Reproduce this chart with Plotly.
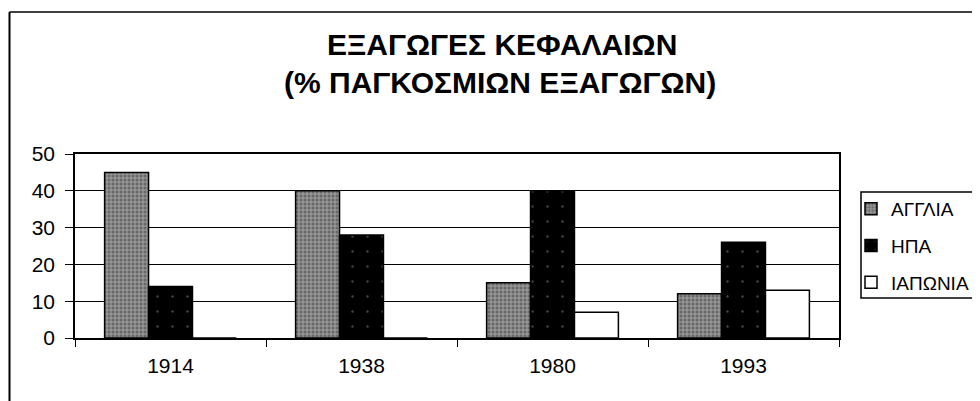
import plotly.graph_objects as go

years = ["1914", "1938", "1980", "1993"]
series_names = ["ΑΓΓΛΙΑ", "ΗΠΑ", "ΙΑΠΩΝΙΑ"]
anglia = [45, 40, 15, 12]
ipa = [14, 28, 40, 26]
iaponia = [0, 0, 7, 13]
y_ticks = [0, 10, 20, 30, 40, 50]

title_line1 = "ΕΞΑΓΩΓΕΣ ΚΕΦΑΛΑΙΩΝ"
title_line2 = "(% ΠΑΓΚΟΣΜΙΩΝ ΕΞΑΓΩΓΩΝ)"

FONT = "Liberation Sans, Arial, sans-serif"

# page offset of the figure (default body margin)
OFF = 8
W, H = 980, 401
# desired plot area in page pixels
PL, PR, PT, PB = 75, 839, 154, 338
L = PL - OFF
T = PT - OFF
R = W - (PR - OFF)
B = H - (PB - OFF)
PW = PR - PL
PH = PB - PT


def px(x):
    return (x - PL) / PW


def py(y):
    return (PB - y) / PH


fig = go.Figure()
styles = [
    dict(color="#949494", pattern=dict(shape=".", fgcolor="#3c3c3c", size=4, solidity=0.45)),
    dict(color="#000000", pattern=dict(shape=".", fgcolor="#8a8a8a", size=15, solidity=0.02)),
    dict(color="#ffffff"),
]
for name, vals, st in zip(series_names, [anglia, ipa, iaponia], styles):
    fig.add_trace(go.Bar(
        x=years, y=vals, name=name, legendgroup=name,
        marker=dict(line=dict(color="#000000", width=1.5), **st),
    ))

fig.update_layout(
    width=W, height=H,
    margin=dict(l=L, r=R, t=T, b=B, autoexpand=False),
    paper_bgcolor="white", plot_bgcolor="white",
    barmode="group", bargap=0.31, bargroupgap=0,
    font=dict(family=FONT, color="black", size=21),
    showlegend=True,
    legend=dict(
        x=px(851), y=py(190), xanchor="left", yanchor="top",
        font=dict(size=19, family=FONT), borderwidth=0,
        bgcolor="rgba(0,0,0,0)", tracegroupgap=9, traceorder="grouped",
    ),
    xaxis=dict(
        type="category", showline=True, linecolor="black", linewidth=1.5,
        mirror=True, ticks="outside", tickson="boundaries", ticklen=7,
        tickcolor="black", showgrid=False, tickfont=dict(size=21),
        ticklabelstandoff=8,
    ),
    yaxis=dict(
        range=[0, 50], tickvals=y_ticks, showline=True, linecolor="black",
        linewidth=1.5, mirror=True, ticks="outside", ticklen=8,
        tickcolor="black", showgrid=True, gridcolor="black", gridwidth=1,
        tickfont=dict(size=21), zeroline=False, ticklabelstandoff=6,
    ),
    annotations=[
        dict(text="<b>" + title_line1 + "</b>", xref="paper", yref="paper",
             x=px(502), y=py(45), xanchor="center", yanchor="middle",
             showarrow=False, font=dict(size=30, family=FONT)),
        dict(text="<b>" + title_line2 + "</b>", xref="paper", yref="paper",
             x=px(500), y=py(83), xanchor="center", yanchor="middle",
             showarrow=False, font=dict(size=30, family=FONT)),
    ],
    shapes=[
        # outer chart frame (top and left edges visible)
        dict(type="line", xref="paper", yref="paper", x0=px(9.5), x1=px(995),
             y0=py(12), y1=py(12), line=dict(color="black", width=1.5)),
        dict(type="line", xref="paper", yref="paper", x0=px(9.5), x1=px(9.5),
             y0=py(12), y1=py(420), line=dict(color="black", width=2)),
        # legend box
        dict(type="rect", xref="paper", yref="paper", x0=px(861), x1=px(1000),
             y0=py(298), y1=py(192), line=dict(color="black", width=1.5)),
    ],
)

fig.write_html("out.html")
